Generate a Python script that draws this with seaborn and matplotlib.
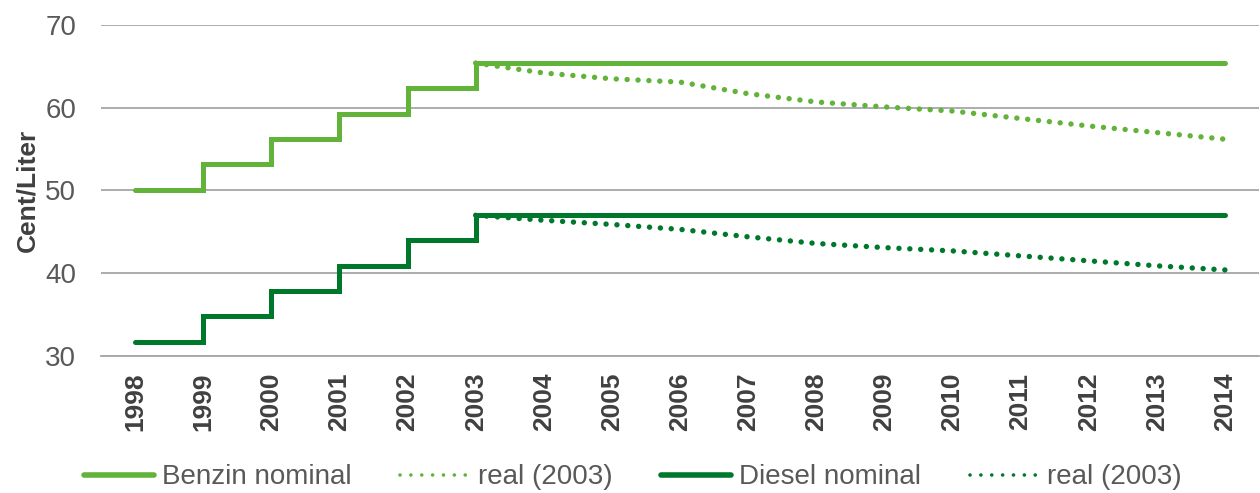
import numpy as np
import pandas as pd
import matplotlib.pyplot as plt
from matplotlib.lines import Line2D
import seaborn as sns

sns.set_style("white")
plt.rcParams['font.family'] = ['Liberation Sans', 'DejaVu Sans']

# data
years = list(range(1998, 2015))
benzin_nominal = [50.1, 53.2, 56.2, 59.3, 62.4, 65.4, 65.4, 65.4, 65.4, 65.4, 65.4,
                  65.4, 65.4, 65.4, 65.4, 65.4, 65.4]
diesel_nominal = [31.7, 34.8, 37.8, 40.9, 44.0, 47.0, 47.0, 47.0, 47.0, 47.0, 47.0,
                  47.0, 47.0, 47.0, 47.0, 47.0, 47.0]
real_years = list(range(2003, 2015))
benzin_real = [65.4, 64.2, 63.5, 63.1, 61.7, 60.7, 60.1, 59.6, 58.7, 57.8, 57.0, 56.2]
diesel_real = [47.0, 46.4, 45.9, 45.3, 44.4, 43.6, 43.1, 42.7, 42.1, 41.5, 40.9, 40.4]
legend_labels = ['Benzin nominal', 'real (2003)', 'Diesel nominal', 'real (2003)']

c_benzin = '#62B33A'
c_diesel = '#00782B'
grid_c = '#A6A6A6'
txt_c = '#595959'

fig = plt.figure(figsize=(12.6, 4.93), dpi=100)
ax = fig.add_axes([0.0802, 0.2779, 0.919, 0.6714])

solid = dict(linewidth=3.6, solid_capstyle='round', solid_joinstyle='miter', drawstyle='steps-post')
dotted = dict(linewidth=3.9, dashes=(0.01, 2.0), dash_capstyle='round')

sns.lineplot(x=years, y=benzin_nominal, color=c_benzin, ax=ax, legend=False, **solid)
sns.lineplot(x=real_years, y=benzin_real, color=c_benzin, ax=ax, legend=False, **dotted)
sns.lineplot(x=years, y=diesel_nominal, color=c_diesel, ax=ax, legend=False, **solid)
sns.lineplot(x=real_years, y=diesel_real, color=c_diesel, ax=ax, legend=False, **dotted)

ax.set_xlim(1997.5, 2014.5)
ax.set_ylim(30, 70)
ax.set_yticks([30, 40, 50, 60, 70])
ax.yaxis.grid(True, color=grid_c, linewidth=1.3)
ax.set_axisbelow(True)
for s in ['top', 'right', 'left']:
    ax.spines[s].set_visible(False)
ax.spines['bottom'].set_color(grid_c)
ax.spines['bottom'].set_linewidth(1.3)

ax.set_xticks(years)
ax.set_xticklabels([str(y) for y in years], rotation=90, fontsize=19,
                   fontweight='bold', color='#404040')
ax.set_xticks(np.arange(1997.5, 2015, 1), minor=True)
ax.tick_params(axis='x', which='major', length=0, pad=12)
ax.tick_params(axis='x', which='minor', length=6, width=1.3, color=grid_c)
ax.tick_params(axis='y', length=0, labelsize=20, labelcolor=txt_c, pad=18)

ax.set_xlabel('')
ax.set_ylabel('Cent/Liter', fontsize=19, fontweight='bold', color='#404040', labelpad=4)

# legend handles (smaller dots than in the plot)
leg_solid = dict(linewidth=4, solid_capstyle='round')
leg_dot = dict(linewidth=2.6, dashes=(0.01, 3.0), dash_capstyle='round')
handles = [Line2D([], [], color=c_benzin, **leg_solid),
           Line2D([], [], color=c_benzin, **leg_dot),
           Line2D([], [], color=c_diesel, **leg_solid),
           Line2D([], [], color=c_diesel, **leg_dot)]
fig.legend(handles, legend_labels, loc='center left', bbox_to_anchor=(0.047, 0.032), ncol=4,
           frameon=False, fontsize=20, handlelength=2.5, handletextpad=0.3,
           columnspacing=1.75, labelcolor=txt_c)

fig.savefig('out.png', dpi=100)
